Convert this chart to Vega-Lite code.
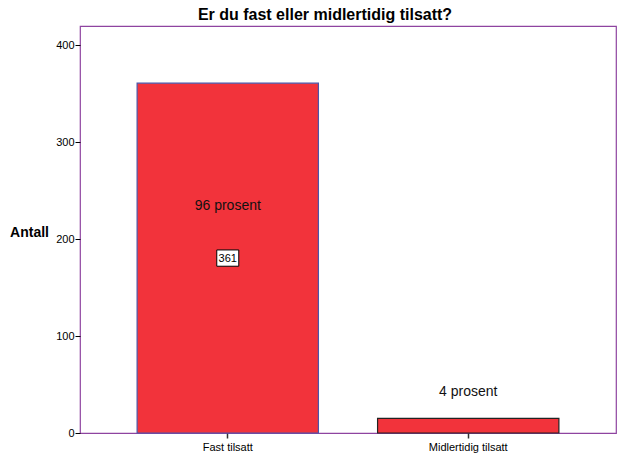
{
  "$schema": "https://vega.github.io/schema/vega-lite/v6.json",
  "width": 536,
  "height": 407,
  "autosize": {"type": "none"},
  "padding": {"left": 80, "top": 26, "right": 2, "bottom": 35},
  "background": "white",
  "config": {
    "font": "Liberation Sans",
    "view": {"stroke": "#8e44a0", "strokeWidth": 1.2}
  },
  "title": {
    "text": "Er du fast eller midlertidig tilsatt?",
    "fontSize": 16,
    "fontWeight": "bold",
    "font": "Liberation Sans",
    "color": "#000",
    "offset": 3,
    "dx": -23
  },
  "data": {
    "values": [
      {"kategori": "Fast tilsatt", "antall": 361, "prosent": "96 prosent"},
      {"kategori": "Midlertidig tilsatt", "antall": 15, "prosent": "4 prosent"}
    ]
  },
  "encoding": {
    "x": {
      "field": "kategori",
      "type": "nominal",
      "sort": null,
      "scale": {"paddingInner": 0.246, "paddingOuter": 0.2375},
      "axis": {
        "title": null,
        "labelAngle": 0,
        "labelFontSize": 11,
        "labelColor": "#000",
        "tickColor": "#333",
        "tickSize": 5,
        "tickWidth": 1.5,
        "domain": false,
        "labelPadding": 3
      }
    }
  },
  "layer": [
    {
      "mark": {"type": "bar", "fill": "#f2333b", "strokeWidth": 1.2},
      "encoding": {
        "y": {
          "field": "antall",
          "type": "quantitative",
          "scale": {"domain": [0, 420], "nice": false},
          "axis": {
            "title": "Antall",
            "titleAngle": 0,
            "titleFontSize": 14,
            "titleFontWeight": "bold",
            "titleColor": "#000",
            "titleAlign": "center",
            "titleBaseline": "middle",
            "titleX": -51,
            "titleY": 206,
            "values": [0, 100, 200, 300, 400],
            "grid": false,
            "domain": false,
            "tickColor": "#000",
            "tickSize": 5,
            "labelPadding": 1,
            "labelFontSize": 11,
            "labelColor": "#000"
          }
        },
        "stroke": {
          "field": "kategori",
          "type": "nominal",
          "scale": {"range": ["#4b55a8", "#222222"]},
          "legend": null
        }
      }
    },
    {
      "transform": [
        {"calculate": "datum.antall > 100 ? datum.antall * 0.65 : datum.antall + 27", "as": "pos"}
      ],
      "mark": {"type": "text", "fontSize": 14, "color": "#111", "baseline": "middle"},
      "encoding": {
        "y": {"field": "pos", "type": "quantitative"},
        "text": {"field": "prosent"}
      }
    },
    {
      "transform": [
        {"filter": "datum.antall > 100"},
        {"calculate": "datum.antall / 2", "as": "mid"}
      ],
      "mark": {
        "type": "point",
        "shape": "M-1,-0.74L1,-0.74L1,0.74L-1,0.74Z",
        "size": 484,
        "filled": true,
        "fill": "white",
        "stroke": "#000",
        "strokeWidth": 1,
        "opacity": 1,
        "dy": 1
      },
      "encoding": {
        "y": {"field": "mid", "type": "quantitative"}
      }
    },
    {
      "transform": [
        {"filter": "datum.antall > 100"},
        {"calculate": "datum.antall / 2", "as": "mid"}
      ],
      "mark": {"type": "text", "fontSize": 11, "color": "#000", "baseline": "middle", "dy": 1},
      "encoding": {
        "y": {"field": "mid", "type": "quantitative"},
        "text": {"field": "antall", "type": "quantitative"}
      }
    }
  ]
}
